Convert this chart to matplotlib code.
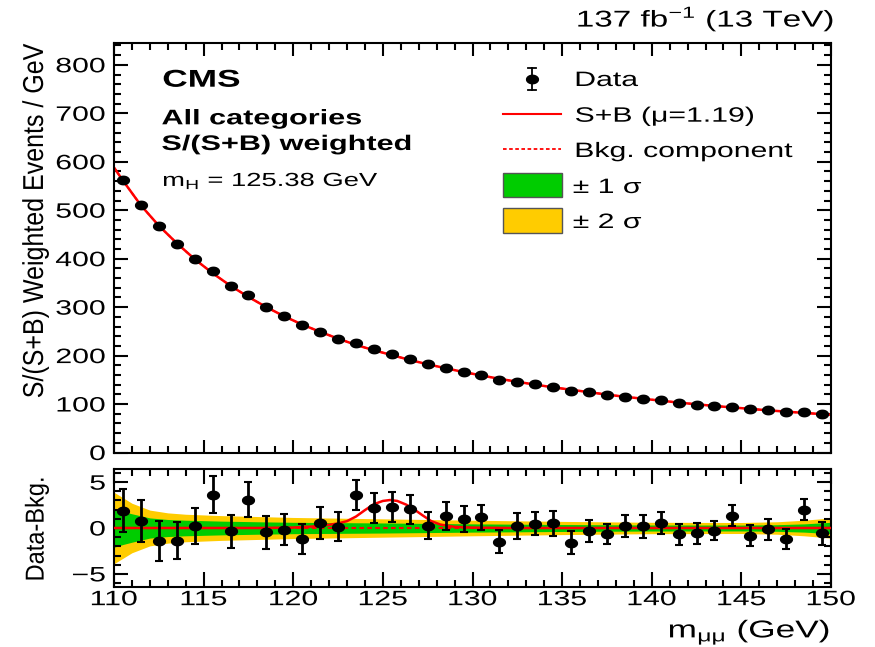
import numpy as np
import matplotlib
matplotlib.use("Agg")
import matplotlib.pyplot as plt
from matplotlib.patheffects import AbstractPathEffect
from matplotlib.transforms import Affine2D
from matplotlib.path import Path
from matplotlib.lines import Line2D
from matplotlib.patches import Rectangle
from matplotlib.ticker import MultipleLocator

# 1 GeV bins between 110 and 150 GeV
bin_centers = np.arange(110.5, 150.0, 1.0)

# background fit at the bin centres (weighted events / GeV)
bkg_fit = [561, 510, 468, 432, 399, 370, 344, 321, 300, 281,
           264, 249, 235, 222, 211, 201, 191, 182, 174, 166,
           159, 152, 146, 140, 134.5, 129.5, 124.5, 119.5, 115, 111,
           107, 103, 99.5, 96, 93, 90, 87, 84.3, 81.7, 79.2]
bkg_at_110 = 588.0
bkg_at_150 = 78.0

# data minus background and its uncertainty
resid = [1.9, 0.72, -1.4, -1.4, 0.21, 3.62, -0.36, 3.08, -0.47, -0.18,
         -1.22, 0.54, 0.11, 3.58, 2.19, 2.33, 2.04, 0.25, 1.29, 0.97,
         1.15, -1.5, 0.22, 0.47, 0.5, -1.6, -0.32, -0.68, 0.25, 0.18,
         0.54, -0.68, -0.57, -0.29, 1.32, -0.82, -0.14, -1.22, 1.97, -0.57]
resid_err = [2.3, 2.28, 2.17, 2.0, 2.0, 2.0, 1.83, 1.9, 1.8, 1.72,
             1.65, 1.74, 1.58, 1.61, 1.61, 1.63, 1.58, 1.47, 1.56, 1.42,
             1.36, 1.24, 1.38, 1.24, 1.36, 1.24, 1.22, 1.1, 1.2, 1.25,
             1.2, 1.13, 1.15, 1.07, 1.15, 1.18, 1.13, 1.06, 1.15, 1.24]

data_top = np.array(bkg_fit) + np.array(resid)

# signal part of the S+B fit (S+B minus background)
sig_mass = [110, 118, 120, 121, 122, 122.5, 123, 123.5, 124, 124.5, 125,
            125.4, 125.8, 126.3, 126.8, 127.2, 127.7, 128.2, 129, 130, 132, 150]
sig_vals = [0, 0, 0.05, 0.15, 0.35, 0.5, 0.75, 1.25, 1.95, 2.6, 2.95,
            3.05, 2.95, 2.55, 1.95, 1.4, 0.75, 0.38, 0.12, 0.04, 0, 0]

# background uncertainty bands
band_mass = [110, 110.5, 111, 112, 113, 114, 116, 118, 120, 125, 130,
             135, 140, 145, 147, 148.5, 150]
band_1sig = [2.1, 1.8, 1.55, 1.1, 0.93, 0.85, 0.75, 0.68, 0.62, 0.55, 0.45,
             0.38, 0.33, 0.32, 0.36, 0.45, 0.62]
band_2sig = [3.9, 3.3, 2.7, 1.95, 1.65, 1.5, 1.35, 1.25, 1.15, 1.0, 0.85,
             0.72, 0.62, 0.6, 0.68, 0.85, 1.1]

GREEN = "#00cc00"
YELLOW = "#ffcc00"
RED = "#ff0000"
STRETCH = 1.45

plt.rcParams["font.family"] = ["Liberation Sans", "DejaVu Sans"]
plt.rcParams["mathtext.fontset"] = "custom"
plt.rcParams["mathtext.rm"] = "Liberation Sans"


class Widen(AbstractPathEffect):
    """Stretch glyph outlines about a point of their ink box."""

    def __init__(self, sx=1.0, sy=1.0, fx=0.0, fy=0.5):
        super().__init__()
        self.sx, self.sy, self.fx, self.fy = sx, sy, fx, fy

    def draw_path(self, renderer, gc, tpath, affine, rgbFace=None):
        ext = tpath.get_extents()
        cx = ext.x0 + self.fx * ext.width
        cy = ext.y0 + self.fy * ext.height
        t = (Affine2D().translate(-cx, -cy).scale(self.sx, self.sy)
             .translate(cx, cy) + affine)
        renderer.draw_path(gc, tpath, t, rgbFace)


W, H = 875, 647
fig = plt.figure(figsize=(W / 100, H / 100), dpi=100)


def fpos(x, y):
    return x / W, 1 - y / H


def ftext(x, y, s, size, anchor=0.0, weight="normal", **kw):
    ha = {0.0: "left", 0.5: "center", 1.0: "right"}[anchor]
    t = fig.text(*fpos(x, y), s, fontsize=size, weight=weight, ha=ha,
                 va="baseline", **kw)
    t.set_path_effects([Widen(sx=STRETCH, fx=anchor)])
    return t


ax = fig.add_axes([114 / W, 1 - 452.5 / H, 717 / W, 409.5 / H])
axr = fig.add_axes([114 / W, 1 - 586.7 / H, 717 / W, 117.4 / H])

theta = np.linspace(0, 2 * np.pi, 41)
dot = Path(np.column_stack([1.4 * np.cos(theta), np.sin(theta)]), closed=True)

# upper panel: weighted events with the fit
bx = np.concatenate([[110.0], bin_centers, [150.0]])
by = np.concatenate([[bkg_at_110], bkg_fit, [bkg_at_150]])
ax.plot(bx, by, color=RED, lw=1.8, zorder=2)
ax.plot(bx, by, color=RED, lw=1.3, ls=(0, (2, 1.4)), zorder=2)
ax.errorbar(bin_centers, data_top, yerr=resid_err, fmt="none", ecolor="k",
            elinewidth=1.5, capsize=3, zorder=3)
ax.plot(bin_centers, data_top, ls="none", marker=dot, ms=8.5, color="k",
        zorder=4)
ax.set_xlim(110, 150)
ax.set_ylim(0, 845)
ax.yaxis.set_major_locator(MultipleLocator(100))
ax.yaxis.set_minor_locator(MultipleLocator(20))
ax.tick_params(labelbottom=False)

# lower panel: data minus background
axr.fill_between(band_mass, -np.array(band_2sig), band_2sig, color=YELLOW,
                 lw=0, zorder=1)
axr.fill_between(band_mass, -np.array(band_1sig), band_1sig, color=GREEN,
                 lw=0, zorder=1)
axr.plot([110, 150], [0, 0], color=RED, lw=1.5, ls=(0, (2.2, 1.6)), zorder=2)
axr.plot(sig_mass, sig_vals, color=RED, lw=1.8, zorder=3)
axr.errorbar(bin_centers, resid, yerr=resid_err, fmt="none", ecolor="k",
             elinewidth=2.0, capsize=3, capthick=1.5, zorder=4)
axr.plot(bin_centers, resid, ls="none", marker=dot, ms=8.5, color="k",
         zorder=5)
axr.set_xlim(110, 150)
axr.set_ylim(-6.4, 6.4)
axr.yaxis.set_major_locator(MultipleLocator(5))
axr.yaxis.set_minor_locator(MultipleLocator(1))
axr.yaxis.set_major_formatter(lambda v, p: f"{v:.0f}".replace("-", "\u2212"))

for a, xlen in ((ax, 9.4), (axr, 10.5)):
    a.xaxis.set_major_locator(MultipleLocator(5))
    a.xaxis.set_minor_locator(MultipleLocator(1))
    a.tick_params(which="both", direction="in", top=True, right=True,
                  width=1.5, labelsize=15)
    a.tick_params(axis="x", which="major", length=xlen, pad=2.5)
    a.tick_params(axis="x", which="minor", length=xlen / 2)
    a.tick_params(axis="y", which="major", length=10, pad=6)
    a.tick_params(axis="y", which="minor", length=5)
    for sp in a.spines.values():
        sp.set_linewidth(1.5)
    for tk in a.xaxis.get_major_ticks():
        tk.label1.set_path_effects([Widen(sx=STRETCH, fx=0.5)])
    for tk in a.yaxis.get_major_ticks():
        tk.label1.set_path_effects([Widen(sx=STRETCH, fx=1.0)])

# axis titles
yt = fig.text(*fpos(35, 221), "S/(S+B) Weighted Events / GeV", fontsize=18,
              rotation=90, ha="center", va="center")
yt.set_path_effects([Widen(sy=1.15, fy=0.5)])
yt2 = fig.text(*fpos(37, 529), "Data-Bkg.", fontsize=17, rotation=90,
               ha="center", va="center")
yt2.set_path_effects([Widen(sy=1.1, fy=0.5)])
ftext(830, 637.5, r"m$_{\mathregular{\mu\mu}}$ (GeV)", 17.5, anchor=1.0)

# header and labels
ftext(834, 26.7, r"137 fb$^{\mathregular{-1}}$ (13 TeV)", 16.5, anchor=1.0)
ftext(162.7, 86.7, "CMS", 17.5, weight="bold")
ftext(161.7, 124.3, "All categories", 15.2, weight="bold")
ftext(161.7, 150, "S/(S+B) weighted", 15.2, weight="bold")
ftext(162.7, 186, r"m$_{\mathregular{H}}$ = 125.38 GeV", 13.6)

# legend
tf = fig.transFigure
ex, ey = fpos(532.3, 79.3)
fig.add_artist(Line2D([ex, ex], [fpos(0, 68.3)[1], fpos(0, 90)[1]], color="k",
                      lw=1.3, transform=tf))
for cy in (68.3, 90):
    fig.add_artist(Line2D([fpos(528.3, 0)[0], fpos(536.3, 0)[0]],
                          [fpos(0, cy)[1]] * 2, color="k", lw=1.3, transform=tf))
fig.add_artist(Line2D([ex], [ey], ls="none", marker=dot, ms=8.5, color="k",
                      transform=tf))
x0, x1 = fpos(503, 0)[0], fpos(561, 0)[0]
fig.add_artist(Line2D([x0, x1], [fpos(0, 114)[1]] * 2, color=RED, lw=1.5,
                      transform=tf))
fig.add_artist(Line2D([x0, x1], [fpos(0, 149)[1]] * 2, color=RED, lw=1.3,
                      ls=(0, (2, 1.4)), transform=tf))
for top, col in ((172.7, GREEN), (208.3, YELLOW)):
    fig.add_artist(Rectangle(fpos(503.3, top + 24.6), 58.4 / W, 24.6 / H,
                             facecolor=col, edgecolor="#555555", lw=1.0,
                             transform=tf))
ftext(575, 86, "Data", 15)
ftext(575, 121.7, "S+B (\u03bc=1.19)", 15)
ftext(575, 157, "Bkg. component", 15)
ftext(573, 193, "\u00b1 1 \u03c3", 15)
ftext(573, 228, "\u00b1 2 \u03c3", 15)

fig.savefig("out.png", dpi=100)
